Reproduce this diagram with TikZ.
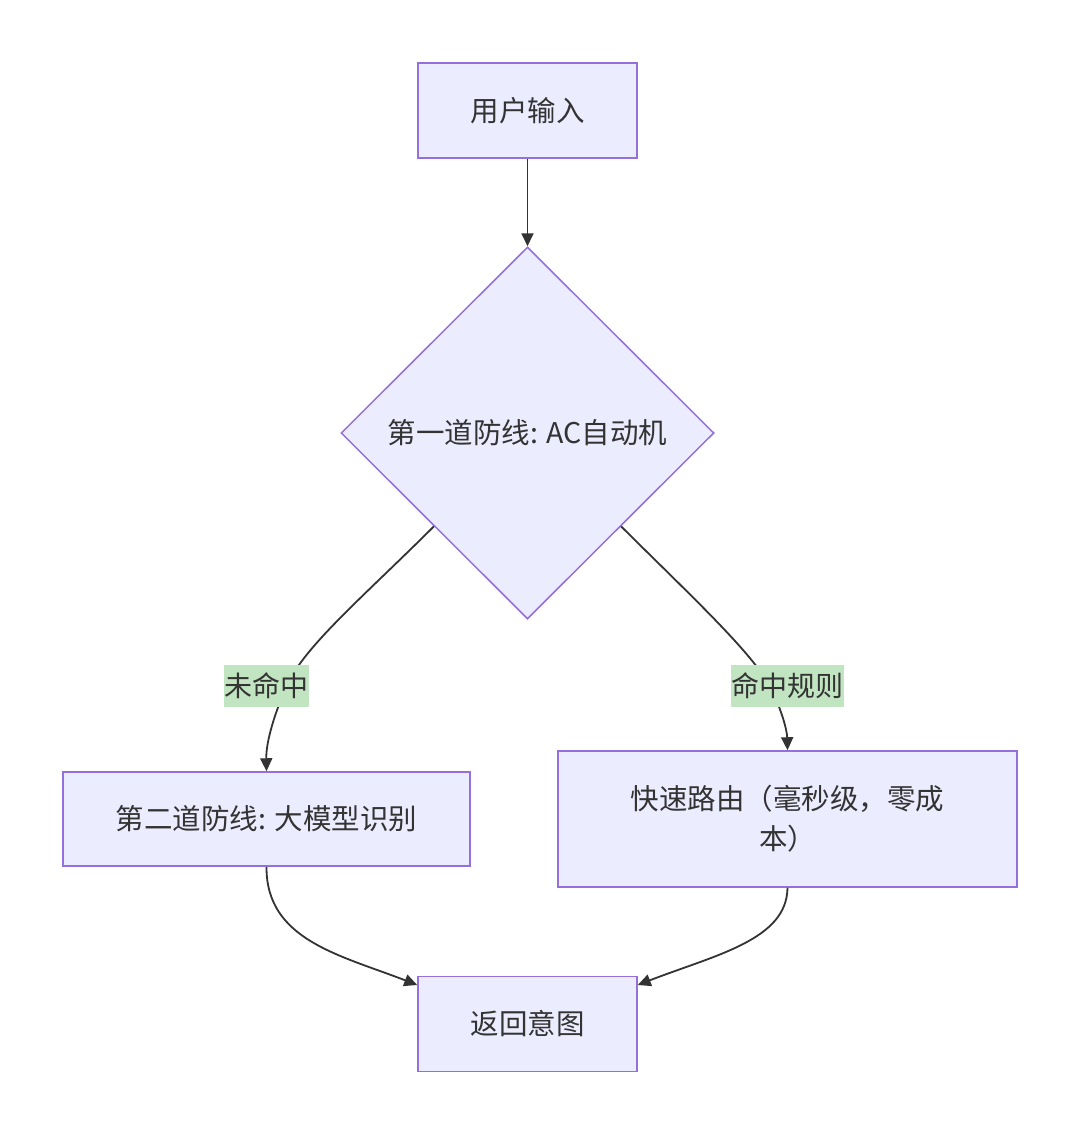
\documentclass[tikz,border=0pt]{standalone}
\usepackage{fontspec}
\newfontfamily\cjk{Noto Sans CJK SC}
\usetikzlibrary{shapes.geometric,arrows.meta,calc}
\definecolor{mfill}{HTML}{ECECFF}
\definecolor{mborder}{HTML}{9370DB}
\definecolor{mtext}{HTML}{333333}
\definecolor{mline}{HTML}{333333}
\definecolor{mlabel}{RGB}{193,228,193}
\tikzset{
  box/.style={draw=mborder, fill=mfill, line width=1.5pt, inner sep=0pt, text=mtext,
    font=\cjk\fontsize{28.5}{40}\selectfont},
  dia/.style={diamond, draw=mborder, fill=mfill, line width=1.5pt, inner sep=0pt, text=mtext,
    minimum width=373pt, minimum height=372pt, font=\cjk\fontsize{28.5}{40}\selectfont},
  lbl/.style={fill=mlabel, inner xsep=0.5pt, inner ysep=0pt, minimum height=42pt, text=mtext,
    font=\cjk\fontsize{28}{40}\selectfont},
  edge/.style={draw=mline, line width=1.8pt, -{Triangle[length=13pt,width=12pt]}},
}
\begin{document}
\begin{tikzpicture}[x=1pt,y=-1pt]
\useasboundingbox[fill=white] (0,0) rectangle (1080,1135);
\node[box, minimum width=219pt, minimum height=95pt] (in) at (527.5,110.5) {用户输入};
\node[dia] (d) at (527.5,433) {第一道防线: AC自动机};
\node[box, minimum width=407pt, minimum height=94pt] (l) at (266.5,819) {第二道防线: 大模型识别};
\node[box, minimum width=459pt, minimum height=136pt, align=center] (r) at (787.5,819) {快速路由（毫秒级，零成\\本）};
\node[box, minimum width=219pt, minimum height=95pt] (o) at (527.5,1024) {返回意图};

\coordinate (dl) at ($(d.west)!0.5!(d.south)$);
\coordinate (dr) at ($(d.east)!0.5!(d.south)$);
\coordinate (c1) at (266,686);
\coordinate (c2) at (787,686);

\draw[edge] (in.south) -- (d.north);
\draw[edge] (dl) .. controls (360,600) and (300,650) .. (285,690)
  .. controls (272,720) and (266,745) .. (l.north);
\draw[edge] (dr) .. controls (690,595) and (755,655) .. (772,690)
  .. controls (782,712) and (787,730) .. (r.north);
\draw[edge] (l.south) .. controls (266,940) and (340,955) .. (o.north west |- 0,985);
\draw[edge] (r.south) .. controls (787,940) and (715,955) .. (o.north east |- 0,985);

\node[lbl] (l1) at (c1) {未命中};
\node[lbl] (l2) at (c2) {命中规则};
\end{tikzpicture}
\end{document}
